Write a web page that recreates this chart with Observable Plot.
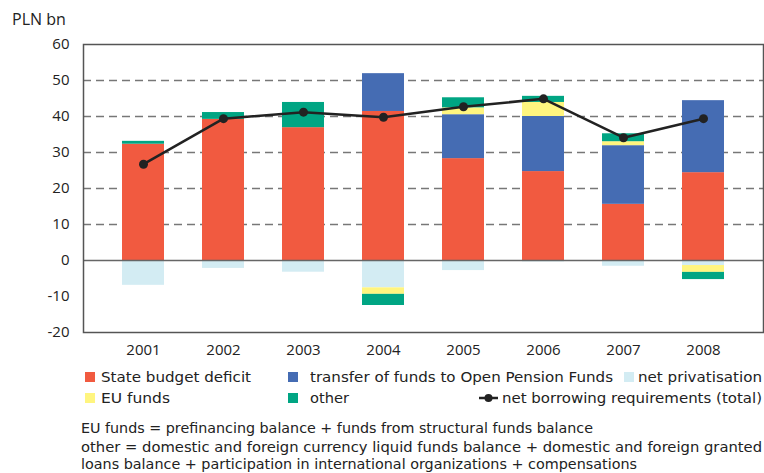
<!DOCTYPE html>
<html><head><meta charset="utf-8">
<script src="https://cdn.jsdelivr.net/npm/d3@7"></script>
<script src="https://cdn.jsdelivr.net/npm/@observablehq/plot@0.6"></script>
<style>
body{margin:0;background:#fff;}
#wrap{position:relative;width:764px;height:473px;font-family:"Open Sans",sans-serif;color:#222;overflow:hidden;}
#unit{position:absolute;left:12px;top:8px;font-size:16px;}
.txt{position:absolute;font-family:"DejaVu Sans",sans-serif;font-size:14.5px;white-space:nowrap;transform-origin:0 50%;line-height:15px;height:15px;color:#222;}
.sw{position:absolute;width:10px;height:10px;}
</style></head>
<body><div id="wrap"><div id="unit">PLN bn</div></div>
<script>
const years = ["2001","2002","2003","2004","2005","2006","2007","2008"];
const stateBudgetDeficit = [32.3, 39.2, 36.9, 41.4, 28.3, 24.7, 15.6, 24.4];
const transferOFE = [0, 0, 0, 10.5, 12.2, 15.3, 16.3, 20.0];
const netPrivatisation = [-6.9, -2.2, -3.25, -7.6, -2.8, -0.4, -1.6, -1.4];
const euFunds = [0, 0, 0, -1.8, 1.9, 3.9, 1.1, -1.9];
const other = [0.8, 1.9, 7.0, -3.1, 2.8, 1.7, 2.2, -2.0];
const netBorrowing = [26.75, 39.4, 41.2, 39.8, 42.7, 44.9, 34.1, 39.4];
const gridTicks = [10, 20, 30, 40, 50];
const yTicks = [-20, -10, 0, 10, 20, 30, 40, 50, 60];

const seriesNames = ["State budget deficit","transfer of funds to Open Pension Funds","net privatisation","EU funds","other"];
const seriesColors = ["#F15A40","#456CB3","#D3ECF3","#FFF57F","#00A583"];
const seriesValues = [stateBudgetDeficit, transferOFE, netPrivatisation, euFunds, other];
const lineName = "net borrowing requirements (total)";

const rows = [];
seriesNames.forEach((s, i) => years.forEach((y, j) => rows.push({year: y, series: s, value: seriesValues[i][j]})));
const lineData = years.map((y, j) => ({year: y, value: netBorrowing[j]}));

const chart = Plot.plot({
  width: 764, height: 365,
  marginLeft: 83, marginRight: 1, marginTop: 44, marginBottom: 33,
  style: {fontFamily: "'Open Sans', sans-serif", fontSize: "15px", color: "#222"},
  x: {domain: years, padding: 0.48, label: null, tickSize: 0, tickPadding: 12},
  y: {domain: [-20, 60], ticks: yTicks, label: null, tickSize: 0, tickPadding: 14, tickFormat: d => d < 0 ? "-" + Math.abs(d) : String(d)},
  color: {domain: seriesNames, range: seriesColors},
  marks: [
    Plot.ruleY(gridTicks, {stroke: "#777", strokeWidth: 1.3, strokeDasharray: "8,5"}),
    Plot.barY(rows, {x: "year", y: "value", fill: "series", order: seriesNames}),
    Plot.ruleY([0], {stroke: "#666", strokeWidth: 1.3}),
    Plot.frame({stroke: "#555", strokeWidth: 1.5}),
    Plot.line(lineData, {x: "year", y: "value", stroke: "#222", strokeWidth: 2.5}),
    Plot.dot(lineData, {x: "year", y: "value", fill: "#222", r: 4.5})
  ]
});
const wrap = document.getElementById("wrap");
chart.style.position = "absolute"; chart.style.left = "0"; chart.style.top = "0";
wrap.appendChild(chart);

// text placed by left x, centre y, fitted to target width
function fitText(t, x, cy, w){
  const d = document.createElement("div"); d.className = "txt";
  d.style.left = x + "px"; d.style.top = (cy - 7.5) + "px"; d.textContent = t; wrap.appendChild(d);
  const bw = d.getBoundingClientRect().width;
  d.style.transform = `scaleX(${w / bw})`;
}
function swatch(c, x, cy){
  const s = document.createElement("div"); s.className = "sw";
  s.style.left = x + "px"; s.style.top = (cy - 5) + "px"; s.style.background = c; wrap.appendChild(s);
}
// legend
swatch(seriesColors[0], 85, 377); fitText(seriesNames[0], 101, 377, 150);
swatch(seriesColors[1], 288, 377); fitText(seriesNames[1], 310, 377, 303);
swatch(seriesColors[2], 624, 377); fitText(seriesNames[2], 638, 377, 124);
swatch(seriesColors[3], 85, 398); fitText(seriesNames[3], 101, 398, 69);
swatch(seriesColors[4], 288, 398); fitText(seriesNames[4], 310, 398, 39);
const ic = document.createElementNS("http://www.w3.org/2000/svg", "svg");
ic.setAttribute("width", 20); ic.setAttribute("height", 10);
ic.style.position = "absolute"; ic.style.left = "479px"; ic.style.top = "393px";
ic.innerHTML = '<line x1="0" y1="5" x2="19" y2="5" stroke="#222" stroke-width="2.5"/><circle cx="9.5" cy="5" r="4" fill="#222"/>';
wrap.appendChild(ic);
fitText(lineName, 502, 398, 260);

const notes = ["EU funds = prefinancing balance + funds from structural funds balance",
 "other = domestic and foreign currency liquid funds balance + domestic and foreign granted",
 "loans balance + participation in international organizations + compensations"];
const noteW = [512, 681, 556];
const noteY = [428, 447, 464];
notes.forEach((t, i) => fitText(t, 81, noteY[i], noteW[i]));
</script></body></html>
